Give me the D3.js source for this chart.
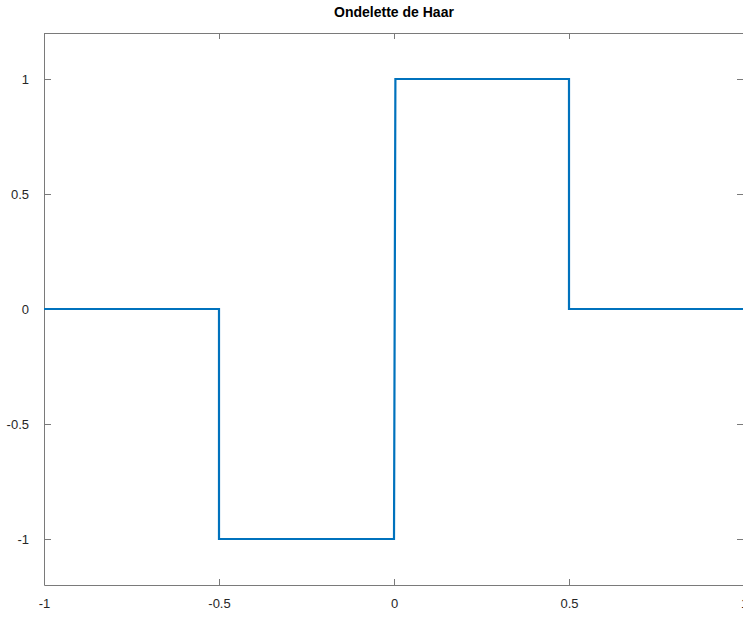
<!DOCTYPE html>
<html>
<head>
<meta charset="utf-8">
<script src="https://cdn.jsdelivr.net/npm/d3@7"></script>
<style>
  body { margin: 0; background: #fff; }
  svg { display: block; font-family: "Liberation Sans", Arial, sans-serif; }
</style>
</head>
<body>
<div id="chart"></div>
<script>
// Haar wavelet sample points (t, psi)
var tValues = [-1, -0.5, -0.5, 0, 0.004, 0.5, 0.5, 1];
var psiValues = [0, 0, -1, -1, 1, 1, 0, 0];
var xTicks = [-1, -0.5, 0, 0.5, 1];
var yTicks = [-1, -0.5, 0, 0.5, 1];
var titleText = "Ondelette de Haar";

var svgWidth = 743, svgHeight = 617;
var margin = { top: 33, right: -1, bottom: 32, left: 44 };
var chartWidth = svgWidth - margin.left - margin.right;
var chartHeight = svgHeight - margin.top - margin.bottom;

var svg = d3.select("#chart").append("svg")
    .attr("width", svgWidth)
    .attr("height", svgHeight);

var chartGroup = svg.append("g")
    .attr("transform", `translate(${margin.left}, ${margin.top})`);

var xScale = d3.scaleLinear().domain([-1, 1]).range([0, chartWidth]);
var yScale = d3.scaleLinear().domain([-1.2, 1.2]).range([chartHeight, 0]);

var axisColor = "#262626";
// plain hyphen for negatives, like octave
var fmt = d => String(d);

// axes (ticks inward, octave style)
var xAxisB = d3.axisBottom(xScale).tickValues(xTicks).tickFormat(fmt).tickSizeInner(-6).tickSizeOuter(0).tickPadding(14);
var xAxisT = d3.axisTop(xScale).tickValues(xTicks).tickFormat("").tickSizeInner(-6).tickSizeOuter(0);
var yAxisL = d3.axisLeft(yScale).tickValues(yTicks).tickFormat(fmt).tickSizeInner(-7).tickSizeOuter(0).tickPadding(15);
var yAxisR = d3.axisRight(yScale).tickValues(yTicks).tickFormat("").tickSizeInner(-7).tickSizeOuter(0);

function styleAxis(g) {
  g.selectAll("path").attr("stroke", "#7a7a7a");
  g.selectAll("line").attr("stroke", "#7a7a7a");
  g.selectAll("text").attr("fill", axisColor).style("font-size", "13px");
}

chartGroup.append("g").attr("transform", `translate(0, ${chartHeight})`).call(xAxisB).call(styleAxis);
chartGroup.append("g").call(xAxisT).call(styleAxis);
chartGroup.append("g").call(yAxisL).call(styleAxis);
chartGroup.append("g").attr("transform", `translate(${chartWidth}, 0)`).call(yAxisR).call(styleAxis);

// the wavelet
var line = d3.line()
    .x((d, i) => xScale(tValues[i]))
    .y(d => yScale(d));

chartGroup.append("path")
    .datum(psiValues)
    .attr("fill", "none")
    .attr("stroke", "#0072BD")
    .attr("stroke-width", 2.2)
    .attr("d", line);

// title
svg.append("text")
    .attr("x", margin.left + xScale(0))
    .attr("y", 17)
    .attr("text-anchor", "middle")
    .attr("font-weight", "bold")
    .attr("font-size", "14px")
    .attr("fill", "#000")
    .text(titleText);
</script>
</body>
</html>
